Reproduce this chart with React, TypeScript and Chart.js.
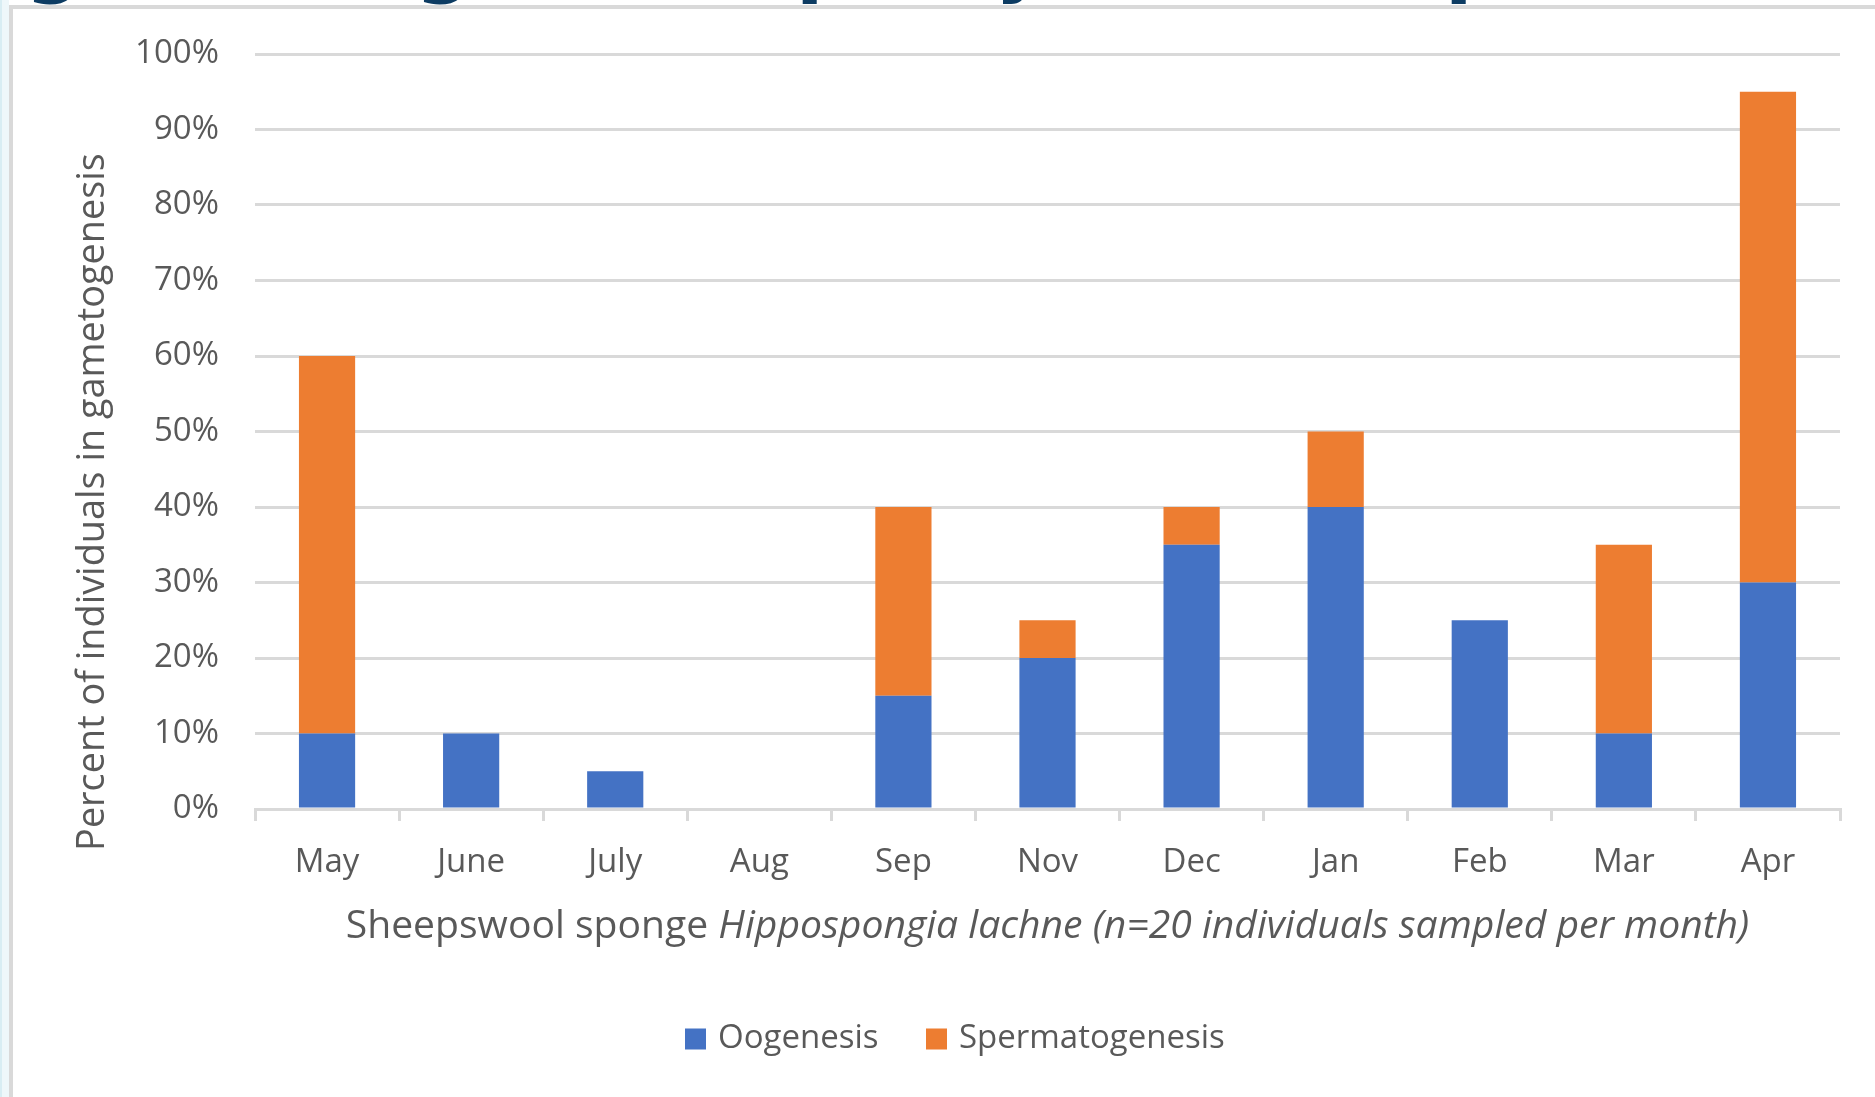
import React, { useEffect, useRef } from "react";
import { Chart, registerables } from "chart.js";

Chart.register(...registerables);

// ---- data ----
const months = ["May", "June", "July", "Aug", "Sep", "Nov", "Dec", "Jan", "Feb", "Mar", "Apr"];
const oogenesis = [10, 10, 5, 0, 15, 20, 35, 40, 25, 10, 30];
const spermatogenesis = [50, 0, 0, 0, 25, 5, 5, 10, 0, 25, 65];
const seriesNames = ["Oogenesis", "Spermatogenesis"];
const seriesColors = ["#4472C4", "#ED7D31"];
const yAxisTitle = "Percent of individuals in gametogenesis";
const xAxisTitlePlain = "Sheepswool sponge ";
const xAxisTitleItalic = "Hippospongia lachne (n=20 individuals sampled per month)";

// descender fragments of the cut-off slide title above the chart frame
const titleFragments = ["g", "g", "p", "y", "p"];
const titleFragmentLefts = [25, 415, 796, 995, 1445];

const FONT = '"Open Sans", "Noto Sans", sans-serif';
const TEXT = "#595959";

const customText = {
  id: "customText",
  afterDraw(chart: any) {
    const ctx = chart.ctx as CanvasRenderingContext2D;
    ctx.save();
    ctx.fillStyle = TEXT;

    // y axis title (rotated)
    ctx.font = `33px ${FONT}`;
    const yw = ctx.measureText(yAxisTitle).width;
    const ySize = (33 * 698) / yw;
    ctx.font = `${ySize}px ${FONT}`;
    ctx.save();
    ctx.translate(80, 493);
    ctx.rotate(-Math.PI / 2);
    ctx.textAlign = "center";
    ctx.textBaseline = "middle";
    ctx.fillText(yAxisTitle, 0, 0);
    ctx.restore();

    // x axis title with italic part
    ctx.font = `33px ${FONT}`;
    const w1 = ctx.measureText(xAxisTitlePlain).width;
    ctx.font = `italic 33px ${FONT}`;
    const w2 = ctx.measureText(xAxisTitleItalic).width;
    const xSize = (33 * 1404) / (w1 + w2);
    ctx.font = `${xSize}px ${FONT}`;
    const a1 = ctx.measureText(xAxisTitlePlain).width;
    ctx.font = `italic ${xSize}px ${FONT}`;
    const a2 = ctx.measureText(xAxisTitleItalic).width;
    const cx = (chart.chartArea.left + chart.chartArea.right) / 2;
    const startX = cx - (a1 + a2) / 2;
    ctx.textAlign = "left";
    ctx.textBaseline = "middle";
    ctx.font = `${xSize}px ${FONT}`;
    ctx.fillText(xAxisTitlePlain, startX, 918);
    ctx.font = `italic ${xSize}px ${FONT}`;
    ctx.fillText(xAxisTitleItalic, startX + a1, 918);

    // legend
    ctx.font = `33px ${FONT}`;
    const boxSize = 21;
    const legendY = 1030;
    const itemStarts = [672, 913];
    seriesNames.forEach((name, i) => {
      const x = itemStarts[i];
      ctx.fillStyle = seriesColors[i];
      ctx.fillRect(x, legendY - boxSize / 2, boxSize, boxSize);
      ctx.fillStyle = TEXT;
      ctx.textBaseline = "middle";
      ctx.fillText(name, x + boxSize + 12, legendY);
    });

    ctx.restore();
  },
};

export default function App() {
  const canvasRef = useRef<HTMLCanvasElement>(null);

  useEffect(() => {
    const canvas = canvasRef.current;
    if (!canvas) return;
    const chart = new Chart(canvas, {
      type: "bar",
      data: {
        labels: months,
        datasets: [
          {
            label: seriesNames[0],
            data: oogenesis,
            backgroundColor: seriesColors[0],
            barPercentage: 1,
            categoryPercentage: 0.39,
          },
          {
            label: seriesNames[1],
            data: spermatogenesis,
            backgroundColor: seriesColors[1],
            barPercentage: 1,
            categoryPercentage: 0.39,
          },
        ],
      },
      options: {
        responsive: false,
        animation: false,
        devicePixelRatio: 1,
        layout: { padding: { top: 45, right: 35, left: 0, bottom: 0 } },
        plugins: {
          legend: { display: false },
          tooltip: { enabled: false },
          title: { display: false },
        },
        scales: {
          x: {
            stacked: true,
            grid: {
              display: true,
              drawOnChartArea: false,
              drawTicks: true,
              tickLength: 12,
              color: "#d9d9d9",
              lineWidth: 3,
              offset: true,
            },
            border: { display: true, color: "#d9d9d9", width: 3 },
            ticks: {
              color: TEXT,
              font: { family: FONT, size: 33 },
              padding: 22,
              maxRotation: 0,
              autoSkip: false,
            },
            afterFit: (scale: any) => {
              scale.height = 288;
            },
          },
          y: {
            stacked: true,
            min: 0,
            max: 100,
            ticks: {
              stepSize: 10,
              color: TEXT,
              font: { family: FONT, size: 33 },
              padding: 36,
              callback: (v: any) => `${v}%`,
            },
            grid: { color: "#d9d9d9", lineWidth: 3, drawTicks: false },
            border: { display: false },
            afterFit: (scale: any) => {
              scale.width = 242;
              scale.paddingTop = 20;
              scale.paddingBottom = 20;
            },
          },
        },
      },
      plugins: [customText],
    });
    return () => chart.destroy();
  }, []);

  return (
    <div
      style={{
        position: "fixed",
        left: 0,
        top: 0,
        width: 1875,
        height: 1097,
        background: "#ffffff",
        overflow: "hidden",
      }}
    >
      <div style={{ position: "absolute", left: 0, top: 0, width: 9, height: 1097, background: "#eef7fa" }} />
      <div style={{ position: "absolute", left: 0, top: 0, width: 2, height: 1097, background: "#d8edf3" }} />
      <div style={{ position: "absolute", left: 0, top: 0, width: 1875, height: 6, overflow: "hidden" }}>
        {titleFragments.map((ch, i) => (
          <span
            key={i}
            style={{
              position: "absolute",
              left: titleFragmentLefts[i],
              top: -80,
              fontFamily: '"DejaVu Sans", sans-serif',
              fontWeight: 700,
              fontSize: 80,
              lineHeight: "80px",
              color: "#0d3c63",
            }}
          >
            {ch}
          </span>
        ))}
      </div>
      <div
        style={{
          position: "absolute",
          left: 9,
          top: 5,
          width: 1900,
          height: 1200,
          borderTop: "4px solid #d9d9d9",
          borderLeft: "4px solid #d9d9d9",
          background: "#ffffff",
        }}
      />
      <canvas
        ref={canvasRef}
        width={1862}
        height={1088}
        style={{ position: "absolute", left: 13, top: 9, display: "block", width: 1862, height: 1088 }}
      />
    </div>
  );
}
